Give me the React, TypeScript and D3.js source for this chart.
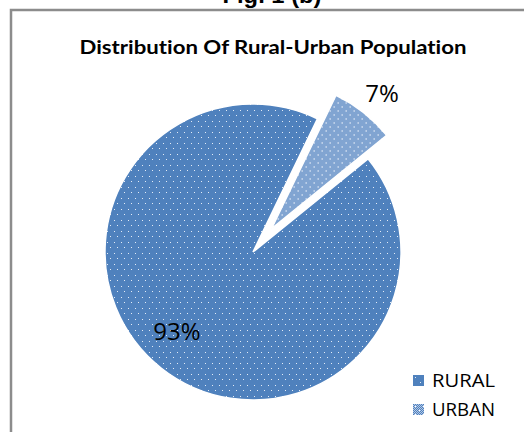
import React from "react";
import * as d3 from "d3";

const categories = ["RURAL", "URBAN"];
const values = [93, 7];
const labels = ["93%", "7%"];
const title = "Distribution Of Rural-Urban Population";
const figLabel = "Fig. 1 (b)";

const W = 524;
const H = 432;
const cx = 253;
const cy = 252;
const R = 148;
const startDeg = 51;
const explode = [0, 30];

export default function App() {
  const pie = d3
    .pie<number>()
    .sort(null)
    .startAngle((startDeg * Math.PI) / 180)
    .endAngle((startDeg * Math.PI) / 180 + 2 * Math.PI);
  const arcs = pie(values);
  const arc = d3.arc<d3.PieArcDatum<number>>().innerRadius(0).outerRadius(R);
  const fills = ["url(#ruralPat)", "url(#urbanPat)"];
  const labelPos = [
    [177, 331],
    [382, 93],
  ];

  return (
    <svg
      width={W}
      height={H}
      style={{ position: "absolute", left: 0, top: 0, background: "#fff" }}
    >
      <defs>
        <pattern id="ruralPat" patternUnits="userSpaceOnUse" width={7} height={11}>
          <rect width={7} height={11} fill="#4F81BD" />
          <rect x={1} y={1} width={1} height={1} fill="#e4ecf6" />
          <rect x={4} y={6} width={1} height={1} fill="#e4ecf6" />
        </pattern>
        <pattern id="urbanPat" patternUnits="userSpaceOnUse" width={8} height={8}>
          <rect width={8} height={8} fill="#b3c8e6" />
          {d3.range(8).flatMap((y) =>
            d3.range(8).filter((x) => (x + y) % 2 === 0).map((x) => (
              <rect key={`${x}-${y}`} x={x} y={y} width={1} height={1} fill="#4F81BD" />
            ))
          )}
          <rect x={2} y={2} width={1} height={1} fill="#ffffff" />
          <rect x={6} y={6} width={1} height={1} fill="#ffffff" />
        </pattern>
      </defs>

      <text
        x={272}
        y={3}
        textAnchor="middle"
        fontFamily="'Liberation Sans', Arial, sans-serif"
        fontWeight="bold"
        fontSize={22}
        textLength={99}
        lengthAdjust="spacingAndGlyphs"
        fill="#000"
      >
        {figLabel}
      </text>

      <rect x={11} y={10} width={540} height={450} fill="none" stroke="#8c8c8c" strokeWidth={2.5} />

      <text
        x={273}
        y={54}
        textAnchor="middle"
        fontFamily="Lato, 'Open Sans', sans-serif"
        fontWeight="bold"
        fontSize={18}
        textLength={387}
        lengthAdjust="spacingAndGlyphs"
        fill="#000"
        style={{ fontVariantLigatures: "none" }}
      >
        {title}
      </text>

      <g transform={`translate(${cx},${cy})`}>
        {arcs.map((a, i) => {
          const mid = (a.startAngle + a.endAngle) / 2;
          const dx = Math.sin(mid) * explode[i];
          const dy = -Math.cos(mid) * explode[i];
          return (
            <path
              key={categories[i]}
              d={arc(a) || ""}
              transform={`translate(${dx},${dy})`}
              fill={fills[i]}
              stroke="#ffffff"
              strokeWidth={1.5}
            />
          );
        })}
      </g>

      {labels.map((l, i) => (
        <text
          key={l}
          x={labelPos[i][0]}
          y={labelPos[i][1] + 9}
          textAnchor="middle"
          fontFamily="'Open Sans', Lato, sans-serif"
          fontSize={24}
          fill="#000"
        >
          {l}
        </text>
      ))}

      {categories.map((c, i) => (
        <g key={c} transform={`translate(413, ${375 + i * 29})`}>
          <rect width={11} height={11} fill={i === 0 ? "#4F81BD" : "url(#urbanPat)"} />
          {i === 0 && (
            <>
              <rect x={2} y={2} width={1} height={1} fill="#e4ecf6" />
              <rect x={7} y={7} width={1} height={1} fill="#e4ecf6" />
            </>
          )}
          <text
            x={19}
            y={12}
            fontFamily="'Open Sans', Lato, sans-serif"
            fontSize={19}
            textLength={63}
            lengthAdjust="spacingAndGlyphs"
            fill="#000"
          >
            {c}
          </text>
        </g>
      ))}
    </svg>
  );
}
